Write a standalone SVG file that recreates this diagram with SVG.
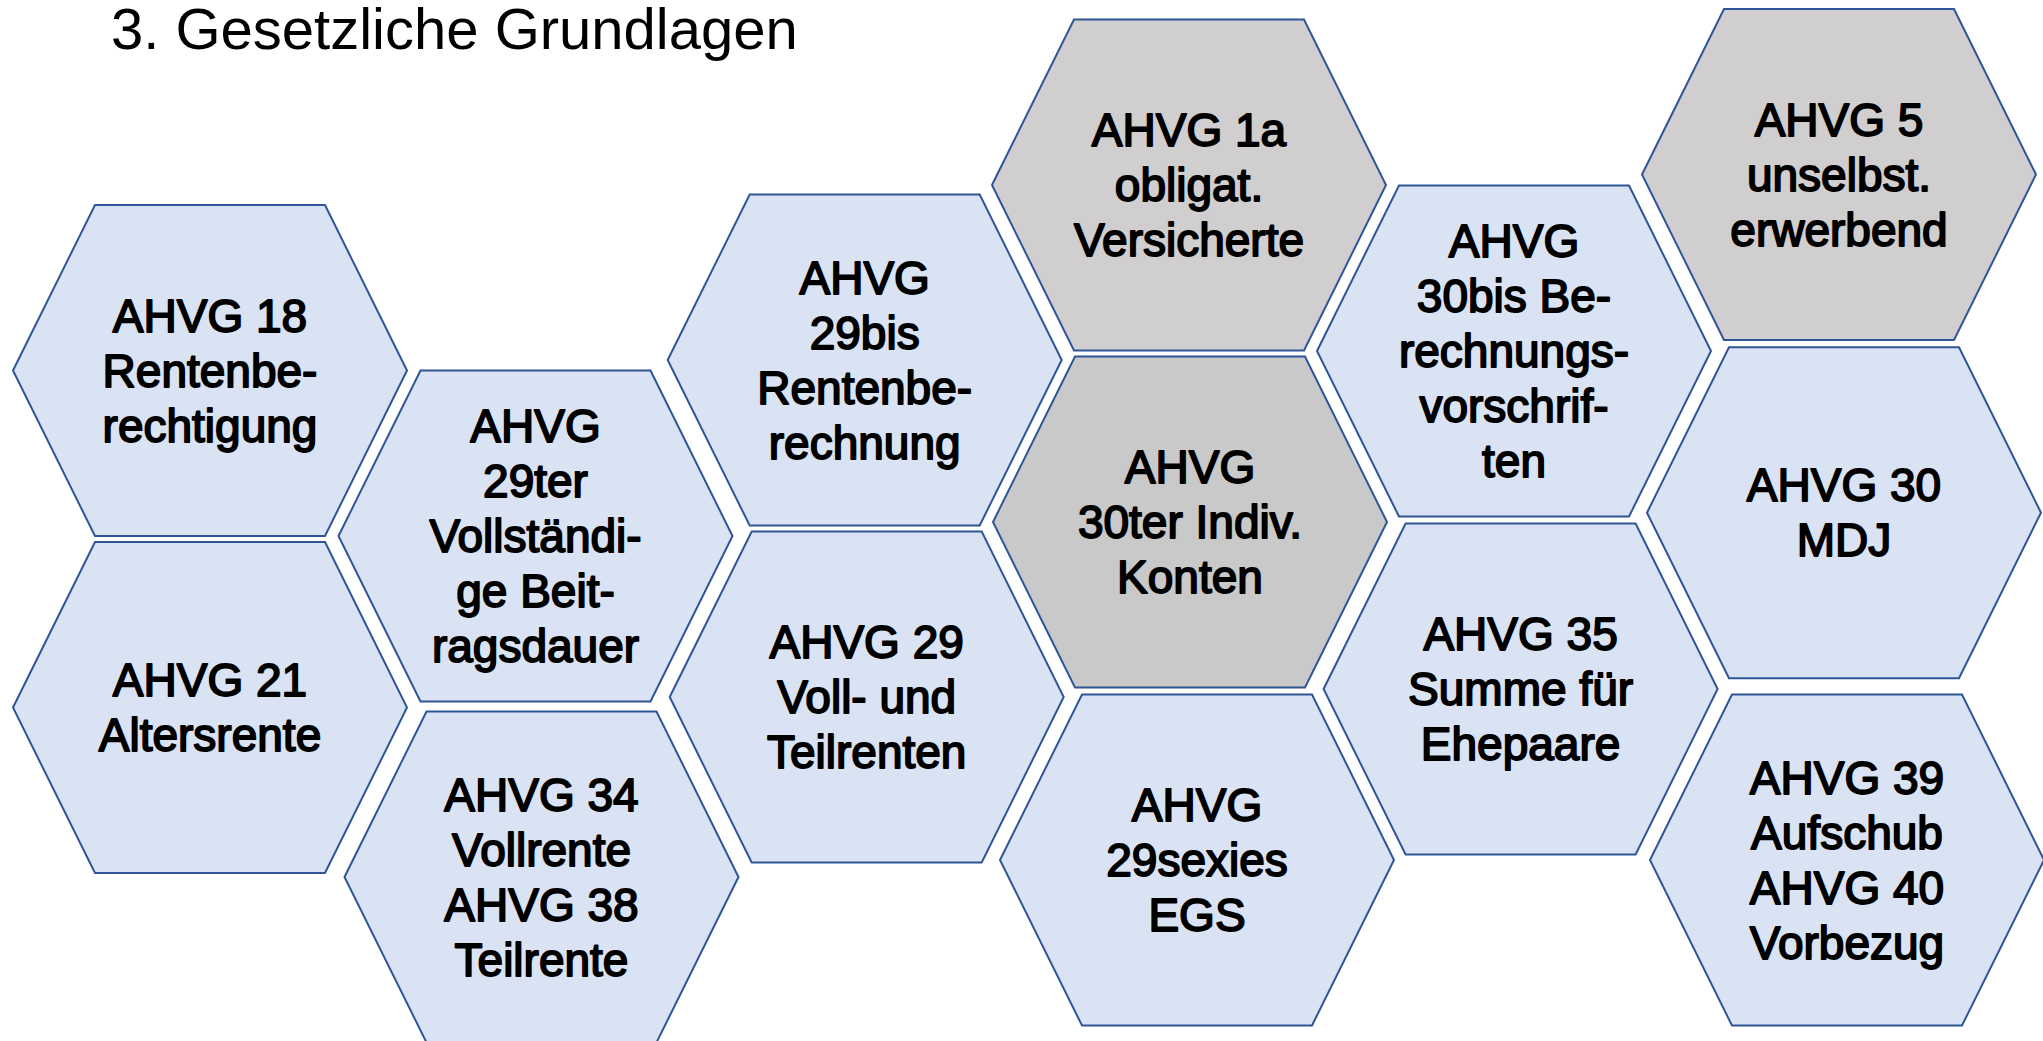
<svg xmlns="http://www.w3.org/2000/svg" xmlns:xlink="http://www.w3.org/1999/xlink" width="2043" height="1041" viewBox="0 0 2043 1041">
<style>
.blue{fill:#DAE3F3;stroke:#2F5597;stroke-width:2}
.gray1{fill:#D0CECE;stroke:#2F5597;stroke-width:2}
.gray2{fill:#C9C9C9;stroke:#2F5597;stroke-width:2}
.lbl{font-family:"Liberation Sans",Arial,sans-serif;font-size:46px;fill:#000;stroke:#000;stroke-width:1.8px;stroke-linejoin:round;text-anchor:middle}
.title{font-family:"Liberation Sans",Arial,sans-serif;font-size:58px;fill:#000}
</style>
<defs>
<polygon id="hex" points="-197,0 -115,-165.5 115,-165.5 197,0 115,165.5 -115,165.5"/>
</defs>
<rect width="2043" height="1041" fill="#fff"/>
<text class="title" x="111" y="49">3. Gesetzliche Grundlagen</text>
<g id="connectors"/>
<g id="n18"><use xlink:href="#hex" x="210" y="370.5" class="blue"/>
<text class="lbl"><tspan x="210" y="331.5">AHVG 18</tspan><tspan x="210" y="386.5">Rentenbe-</tspan><tspan x="210" y="441.5">rechtigung</tspan></text></g>
<g id="n21"><use xlink:href="#hex" x="210" y="707.5" class="blue"/>
<text class="lbl"><tspan x="210" y="696">AHVG 21</tspan><tspan x="210" y="751">Altersrente</tspan></text></g>
<g id="n29ter"><use xlink:href="#hex" x="535.5" y="536" class="blue"/>
<text class="lbl"><tspan x="535.5" y="442">AHVG</tspan><tspan x="535.5" y="497">29ter</tspan><tspan x="535.5" y="552">Vollständi-</tspan><tspan x="535.5" y="607">ge Beit-</tspan><tspan x="535.5" y="662">ragsdauer</tspan></text></g>
<g id="n34"><use xlink:href="#hex" x="541.5" y="877" class="blue"/>
<text class="lbl"><tspan x="541.5" y="810.5">AHVG 34</tspan><tspan x="541.5" y="865.5">Vollrente</tspan><tspan x="541.5" y="920.5">AHVG 38</tspan><tspan x="541.5" y="975.5">Teilrente</tspan></text></g>
<g id="n29bis"><use xlink:href="#hex" x="864.7" y="360" class="blue"/>
<text class="lbl"><tspan x="864.7" y="293.5">AHVG</tspan><tspan x="864.7" y="348.5">29bis</tspan><tspan x="864.7" y="403.5">Rentenbe-</tspan><tspan x="864.7" y="458.5">rechnung</tspan></text></g>
<g id="n29"><use xlink:href="#hex" x="866.7" y="697" class="blue"/>
<text class="lbl"><tspan x="866.7" y="658">AHVG 29</tspan><tspan x="866.7" y="713">Voll- und</tspan><tspan x="866.7" y="768">Teilrenten</tspan></text></g>
<g id="n1a"><use xlink:href="#hex" x="1189" y="185" class="gray1"/>
<text class="lbl"><tspan x="1189" y="146">AHVG 1a</tspan><tspan x="1189" y="201">obligat.</tspan><tspan x="1189" y="256">Versicherte</tspan></text></g>
<g id="n30ter"><use xlink:href="#hex" x="1190" y="522" class="gray2"/>
<text class="lbl"><tspan x="1190" y="483">AHVG</tspan><tspan x="1190" y="538">30ter Indiv.</tspan><tspan x="1190" y="593">Konten</tspan></text></g>
<g id="n29sexies"><use xlink:href="#hex" x="1197" y="860" class="blue"/>
<text class="lbl"><tspan x="1197" y="821">AHVG</tspan><tspan x="1197" y="876">29sexies</tspan><tspan x="1197" y="931">EGS</tspan></text></g>
<g id="n30bis"><use xlink:href="#hex" x="1514" y="351" class="blue"/>
<text class="lbl"><tspan x="1514" y="257">AHVG</tspan><tspan x="1514" y="312">30bis Be-</tspan><tspan x="1514" y="367">rechnungs-</tspan><tspan x="1514" y="422">vorschrif-</tspan><tspan x="1514" y="477">ten</tspan></text></g>
<g id="n35"><use xlink:href="#hex" x="1520.6" y="689" class="blue"/>
<text class="lbl"><tspan x="1520.6" y="650">AHVG 35</tspan><tspan x="1520.6" y="705">Summe für</tspan><tspan x="1520.6" y="760">Ehepaare</tspan></text></g>
<g id="n5"><use xlink:href="#hex" x="1839" y="174.5" class="gray1"/>
<text class="lbl"><tspan x="1839" y="135.5">AHVG 5</tspan><tspan x="1839" y="190.5">unselbst.</tspan><tspan x="1839" y="245.5">erwerbend</tspan></text></g>
<g id="n30"><use xlink:href="#hex" x="1844" y="512.7" class="blue"/>
<text class="lbl"><tspan x="1844" y="501.2">AHVG 30</tspan><tspan x="1844" y="556.2">MDJ</tspan></text></g>
<g id="n39"><use xlink:href="#hex" x="1847" y="860" class="blue"/>
<text class="lbl"><tspan x="1847" y="793.5">AHVG 39</tspan><tspan x="1847" y="848.5">Aufschub</tspan><tspan x="1847" y="903.5">AHVG 40</tspan><tspan x="1847" y="958.5">Vorbezug</tspan></text></g>
</svg>
